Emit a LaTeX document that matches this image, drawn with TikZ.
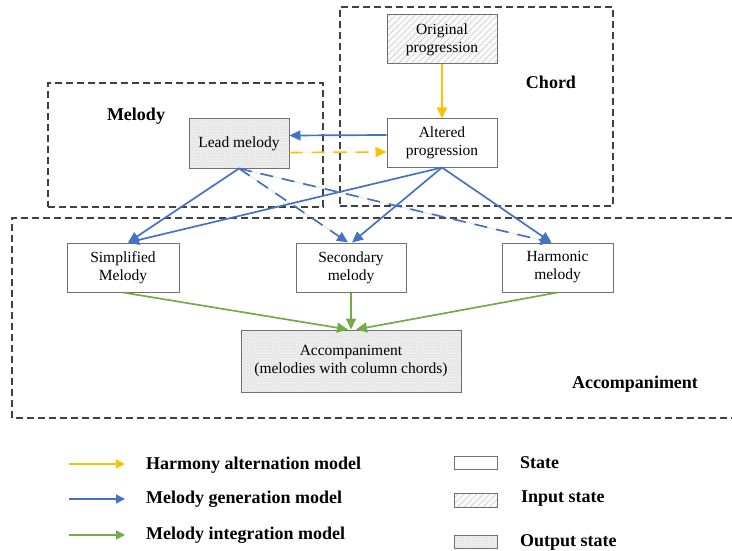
\documentclass[tikz,border=0pt]{standalone}
\usepackage{fontspec}
\setmainfont{Liberation Serif}
\usetikzlibrary{arrows.meta,patterns,patterns.meta,calc}
\definecolor{cyel}{HTML}{FFC000}
\definecolor{cblue}{HTML}{4472C4}
\definecolor{cgreen}{HTML}{70AD47}
\definecolor{cframe}{HTML}{404040}
\definecolor{cbox}{HTML}{707070}
\begin{document}
\begin{tikzpicture}[x=1pt,y=-1pt,
  statebox/.style={draw=cbox,line width=1pt,fill=white,align=center,inner sep=0pt,
    font=\fontsize{15.5}{18}\selectfont},
  inbox/.style={statebox,preaction={fill=gray!5},pattern={Lines[angle=45,distance=4.5pt,line width=0.6pt]},pattern color=gray!40},
  outbox/.style={statebox,preaction={fill=gray!14},pattern=crosshatch dots,pattern color=gray!30},
  frame/.style={draw=cframe,line width=1.2pt,dash pattern=on 7pt off 4pt},
  grouplabel/.style={font=\fontsize{18}{21}\selectfont\bfseries},
  legtext/.style={font=\fontsize{18}{21}\selectfont\bfseries,anchor=west,inner sep=0pt},
  arr/.style={line width=1.7pt,-{Triangle[length=11pt,width=10pt]}},
  yarr/.style={arr,draw=cyel,fill=cyel},
  barr/.style={arr,draw=cblue,fill=cblue},
  garr/.style={arr,draw=cgreen,fill=cgreen},
  dashy/.style={dash pattern=on 13pt off 9pt},
  legarr/.style={-{Triangle[length=9pt,width=9pt]}}
]
\useasboundingbox (0,0) rectangle (732,551);

% group frames
\node[frame,minimum width=273pt,minimum height=199pt,inner sep=0pt] (fchord) at (476.5,106.5) {};
\node[frame,minimum width=275pt,minimum height=124pt,inner sep=0pt] (fmel) at (185.5,145) {};
\draw[frame] (732,218) -- (12,218) -- (12,418) -- (732,418);

\node[grouplabel] (lchord) at (551,82) {Chord};
\node[grouplabel] (lmel) at (136,116) {Melody};
\node[grouplabel] (lacc) at (635,384) {Accompaniment};

% states
\node[inbox,minimum width=110pt,minimum height=49pt] (orig) at (442,39.5) {Original\\progression};
\node[statebox,minimum width=110pt,minimum height=48pt] (alt) at (442,143) {Altered\\progression};
\node[outbox,minimum width=100pt,minimum height=49pt] (lead) at (239,143.5) {Lead melody};
\node[statebox,minimum width=112pt,minimum height=49pt] (simp) at (123,267.5) {Simplified\\Melody};
\node[statebox,minimum width=110pt,minimum height=49pt] (sec) at (351,267.5) {Secondary\\melody};
\node[statebox,minimum width=111pt,minimum height=49pt] (harm) at (557.5,267.5) {Harmonic\\melody};
\node[outbox,minimum width=220pt,minimum height=62pt] (acc) at (351,361) {Accompaniment\\(melodies with column chords)};

% connectors
\draw[yarr] (orig.south) -- (alt.north);
\draw[barr] ([yshift=8pt]alt.west) -- ([yshift=8pt]lead.east);
\draw[yarr,dashy] ([yshift=-9pt]lead.east) -- ([yshift=-9pt]alt.west);

\draw[barr] (lead.south) -- ([xshift=5pt]simp.north);
\draw[barr,dashy] (lead.south) -- ([xshift=-3pt]sec.north);
\draw[barr,dashy] (lead.south) -- ([xshift=-6pt]harm.north);
\draw[barr] (alt.south) -- ([xshift=5pt]simp.north);
\draw[barr] (alt.south) -- ([xshift=1pt]sec.north);
\draw[barr] (alt.south) -- ([xshift=-6pt]harm.north);

\draw[garr] (simp.south) -- ([xshift=-3pt]acc.north);
\draw[garr] (sec.south) -- (acc.north);
\draw[garr] (harm.south) -- ([xshift=5pt]acc.north);

% legend
\coordinate (ly1) at (69,464); \coordinate (ly2) at (125,464);
\coordinate (lb1) at (69,499); \coordinate (lb2) at (125,499);
\coordinate (lg1) at (69,535); \coordinate (lg2) at (125,535);
\draw[yarr,legarr] (ly1) -- (ly2);
\draw[barr,legarr] (lb1) -- (lb2);
\draw[garr,legarr] (lg1) -- (lg2);
\node[legtext] (t1) at (146,465) {Harmony alternation model};
\node[legtext] (t2) at (146,499) {Melody generation model};
\node[legtext] (t3) at (146,535) {Melody integration model};

\node[statebox,minimum width=43pt,minimum height=13pt] (ls) at (475.5,463) {};
\node[inbox,minimum width=43pt,minimum height=14pt] (li) at (475.5,500) {};
\node[outbox,minimum width=43pt,minimum height=13pt] (lo) at (475.5,541.5) {};
\node[legtext] (t4) at (520,463) {State};
\node[legtext] (t5) at (521,499) {Input state};
\node[legtext] (t6) at (520,542) {Output state};
\end{tikzpicture}
\end{document}
